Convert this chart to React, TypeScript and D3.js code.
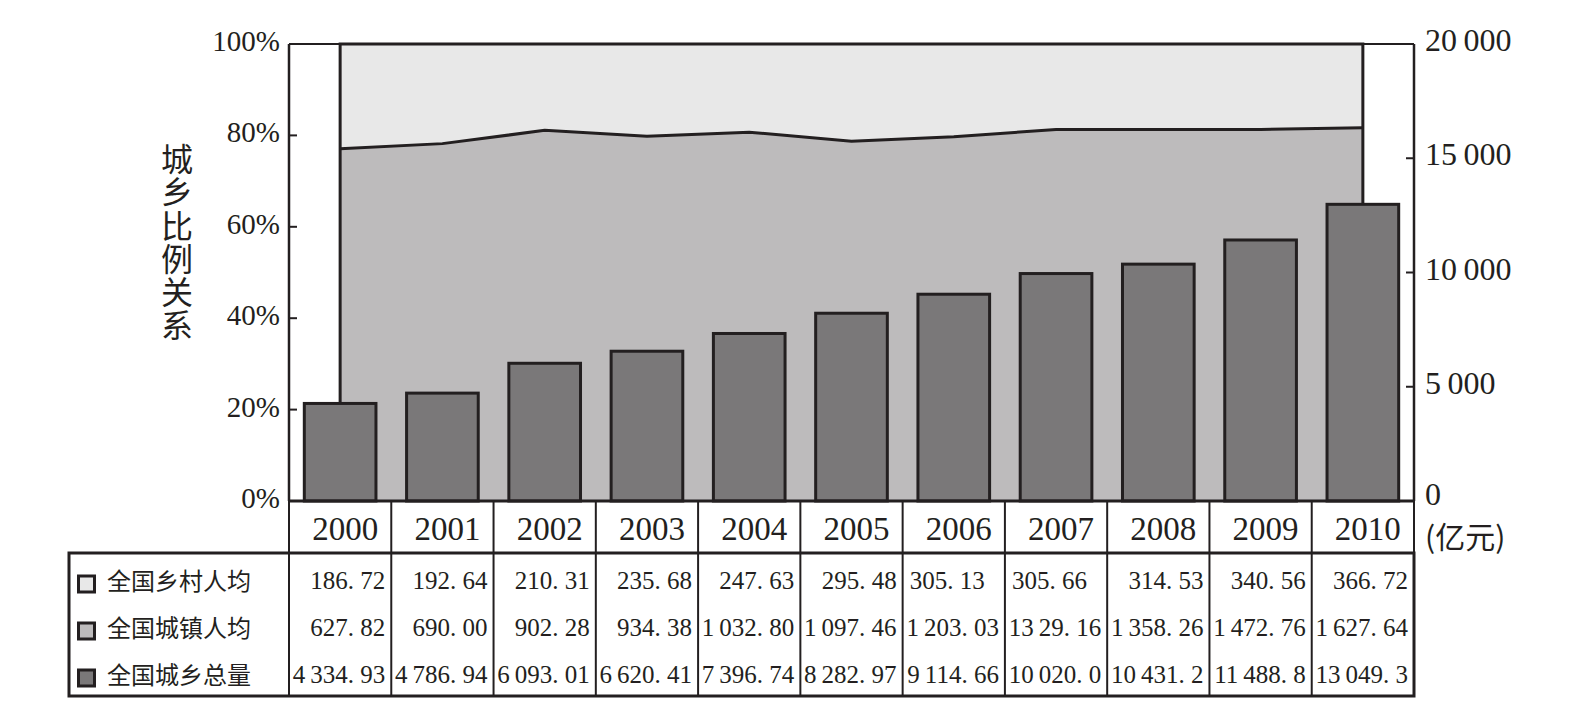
import React from "react";
import * as d3 from "d3";

const years = ["2000","2001","2002","2003","2004","2005","2006","2007","2008","2009","2010"];
// urban share of per-capita (%)
const urbanShare = [77.1, 78.2, 81.1, 79.8, 80.7, 78.7, 79.7, 81.3, 81.3, 81.3, 81.7];
// national urban+rural total (亿元), bars
const totalValues = [4334.93, 4786.94, 6093.01, 6620.41, 7396.74, 8282.97, 9114.66, 10020.0, 10431.2, 11488.8, 13049.3];
const ruralLabels = ["186. 72","192. 64","210. 31","235. 68","247. 63","295. 48","305. 13","305. 66","314. 53","340. 56","366. 72"];
const urbanLabels = ["627. 82","690. 00","902. 28","934. 38","1\u2009032. 80","1\u2009097. 46","1\u2009203. 03","13\u200929. 16","1\u2009358. 26","1\u2009472. 76","1\u2009627. 64"];
const totalLabels = ["4\u2009334. 93","4\u2009786. 94","6\u2009093. 01","6\u2009620. 41","7\u2009396. 74","8\u2009282. 97","9\u2009114. 66","10\u2009020. 0","10\u2009431. 2","11\u2009488. 8","13\u2009049. 3"];
const leftTicks = [0, 20, 40, 60, 80, 100];
const rightTicks = [0, 5000, 10000, 15000, 20000];
const rightTickLabels = ["0", "5\u2009000", "10\u2009000", "15\u2009000", "20\u2009000"];
const legendNames = ["全国乡村人均", "全国城镇人均", "全国城乡总量"];
const yTitle = "城乡比例关系";
const unitLabel = "(亿元)";

const INK = "#231f20";
const LIGHT = "#e8e8e8";
const MID = "#bdbbbc";
const DARK = "#7a7879";
const SERIF = "'Liberation Serif', 'DejaVu Serif', serif";
const CJK = "'Noto Sans CJK SC', sans-serif";

export default function App() {
  const L = 289, R = 1414, T = 44, B = 501;
  const yearRowB = 553, tableB = 696, tableL = 69;
  const x = d3.scaleBand<string>().domain(years).range([L, R]).paddingInner(0.27).paddingOuter(0.135);
  const col = d3.scaleBand<string>().domain(years).range([L, R]).padding(0);
  const yPct = d3.scaleLinear().domain([0, 100]).range([B, T]);
  const yVal = d3.scaleLinear().domain([0, 20000]).range([B, T]);
  const cx = (y: string) => (x(y) as number) + x.bandwidth() / 2;

  const pts: [number, number][] = years.map((yr, i) => [cx(yr), yPct(urbanShare[i])]);
  const areaMid = d3.area<[number, number]>().x(d => d[0]).y0(B).y1(d => d[1])(pts) as string;
  const linePath = d3.line<[number, number]>().x(d => d[0]).y(d => d[1])(pts) as string;
  const x0 = cx(years[0]), x1 = cx(years[years.length - 1]);
  const outline = `M${x0},${B}L${x0},${T}L${x1},${T}L${x1},${B}`;

  const rowBase = [589, 636, 683];
  const rowsText = [ruralLabels, urbanLabels, totalLabels];
  const legendFill = [LIGHT, MID, DARK];
  const leftAligned = (r: number, i: number) => r === 0 && (years[i] === "2006" || years[i] === "2007");

  return (
    <svg width={1573} height={723} style={{ position: "absolute", left: 0, top: 0, background: "#fff" }}>
      {/* areas */}
      <rect x={x0} y={T} width={x1 - x0} height={B - T} fill={LIGHT} />
      <path d={areaMid} fill={MID} />
      <path d={linePath} fill="none" stroke={INK} strokeWidth={3} />
      <path d={outline} fill="none" stroke={INK} strokeWidth={3} />
      {/* frame */}
      <line x1={L} x2={R} y1={T} y2={T} stroke={INK} strokeWidth={2} />
      <line x1={L} x2={L} y1={T} y2={B} stroke={INK} strokeWidth={2.5} />
      <line x1={R} x2={R} y1={T} y2={B} stroke={INK} strokeWidth={2.5} />
      {/* bars */}
      {years.map((yr, i) => (
        <rect key={yr} x={(x(yr) as number) + 1.5} y={yVal(totalValues[i]) + 1.5}
          width={x.bandwidth() - 3} height={B - yVal(totalValues[i]) - 1.5}
          fill={DARK} stroke={INK} strokeWidth={3} />
      ))}
      {/* left ticks & labels */}
      {leftTicks.map(t => (
        <g key={t}>
          {t > 0 && t < 100 && <line x1={L} x2={L + 8} y1={yPct(t)} y2={yPct(t)} stroke={INK} strokeWidth={2} />}
          <text x={280} y={yPct(t) + 7} textAnchor="end" fontFamily={SERIF} fontSize={29} fill={INK}>{t}%</text>
        </g>
      ))}
      {/* right ticks & labels */}
      {rightTicks.map((t, i) => (
        <g key={t}>
          {t > 0 && t < 20000 && <line x1={R - 8} x2={R} y1={yVal(t)} y2={yVal(t)} stroke={INK} strokeWidth={2} />}
          <text x={1425} y={yVal(t) + (t === 0 ? 4 : 7)} textAnchor="start" fontFamily={SERIF} fontSize={32} fill={INK}>{rightTickLabels[i]}</text>
        </g>
      ))}
      <text x={1425} y={548} fontFamily={CJK} fontSize={30} fill={INK}>{unitLabel}</text>
      {/* y title (vertical) */}
      <text x={177} y={143} fontFamily={CJK} fontSize={32} fill={INK}
        style={{ writingMode: "vertical-rl", letterSpacing: "1.2px" } as React.CSSProperties}>{yTitle}</text>
      {/* x axis line */}
      <line x1={L} x2={R} y1={B} y2={B} stroke={INK} strokeWidth={3} />
      {/* year row */}
      {years.map(yr => (
        <text key={yr} x={(col(yr) as number) + col.bandwidth() / 2 + 5} y={540} textAnchor="middle"
          fontFamily={SERIF} fontSize={33} fill={INK}>{yr}</text>
      ))}
      {[...years.map(yr => col(yr) as number), R].map((xx, i) => (
        <line key={i} x1={xx} x2={xx} y1={B} y2={tableB} stroke={INK} strokeWidth={2} />
      ))}
      {/* table body */}
      <rect x={tableL} y={yearRowB} width={R - tableL} height={tableB - yearRowB} fill="none" stroke={INK} strokeWidth={3} />
      {legendNames.map((nm, r) => (
        <g key={nm}>
          <rect x={78.5} y={rowBase[r] - 13} width={16} height={16} fill={legendFill[r]} stroke={INK} strokeWidth={3} />
          <text x={107} y={rowBase[r] + 1} fontFamily={CJK} fontSize={24} fill={INK}>{nm}</text>
        </g>
      ))}
      {rowsText.map((row, r) => row.map((s, i) => {
        const c0 = col(years[i]) as number;
        const la = leftAligned(r, i);
        return (
          <text key={`${r}-${i}`} x={la ? c0 + 7 : c0 + col.bandwidth() - 6} y={rowBase[r]}
            textAnchor={la ? "start" : "end"} fontFamily={SERIF} fontSize={25} fill={INK}>{s}</text>
        );
      }))}
    </svg>
  );
}
